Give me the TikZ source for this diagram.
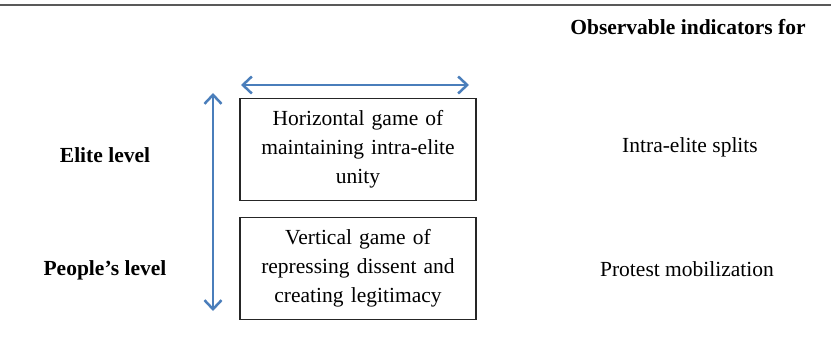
\documentclass[tikz,border=0pt]{standalone}
\usepackage{fontspec}
\setmainfont{Liberation Serif}
\usetikzlibrary{arrows.meta}

\definecolor{arrowblue}{RGB}{74,126,187}

\tikzset{
  gamebox/.style={draw=black!85, line width=1.2pt, minimum width=236pt, minimum height=102pt,
    text width=228pt, align=center, inner sep=0pt, font=\fontsize{21.5}{29}\selectfont},
  levellabel/.style={font=\fontsize{21.5}{26}\selectfont\bfseries, inner sep=0pt},
  indicator/.style={font=\fontsize{21.5}{26}\selectfont, inner sep=0pt},
  bluearrow/.style={{Straight Barb[length=9pt,width=17pt]}-{Straight Barb[length=9pt,width=17pt]},
    draw=arrowblue, line width=2.5pt}
}

\begin{document}
\begin{tikzpicture}[x=1pt,y=-1pt]
\useasboundingbox (0,0) rectangle (831,342);
\draw[line width=1.3pt, black!65] (0,5) -- (831,5);
\node[levellabel] (header) at (688,27) {Observable indicators for};
\node[gamebox] (horizgame) at (358,149.5) {Horizontal game of\\maintaining intra-elite\\unity};
\node[gamebox] (vertgame) at (358,268.5) {Vertical game of\\repressing dissent and\\creating legitimacy};
\node[levellabel] (elite) at (105,155) {Elite level};
\node[levellabel] (people) at (105,270) {People’s level};
\node[indicator] (splits) at (690,147) {Intra-elite splits};
\node[indicator] (protest) at (687,269) {Protest mobilization};
\coordinate (hleft) at (241,85);
\coordinate (hright) at (469,85);
\coordinate (vtop) at (213,93);
\coordinate (vbottom) at (213,311);
\draw[bluearrow] (hleft) -- (hright);
\draw[bluearrow] (vtop) -- (vbottom);
\end{tikzpicture}
\end{document}
